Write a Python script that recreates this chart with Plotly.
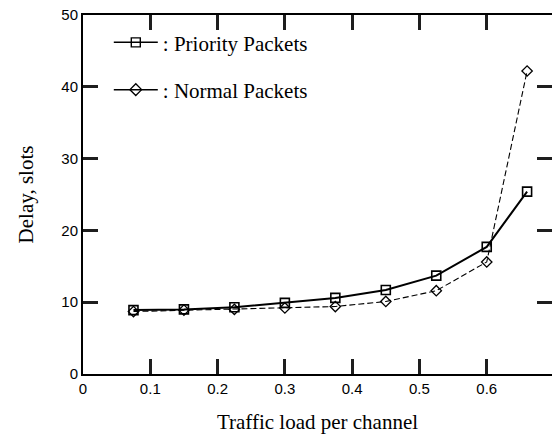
import plotly.graph_objects as go

load = [0.075, 0.15, 0.225, 0.3, 0.375, 0.45, 0.525, 0.6, 0.66]
priority_delay = [8.9, 9.0, 9.3, 9.9, 10.6, 11.7, 13.7, 17.7, 25.4]
normal_delay = [8.7, 8.9, 9.0, 9.2, 9.4, 10.1, 11.6, 15.6, 42.2]

x_ticks = [0, 0.1, 0.2, 0.3, 0.4, 0.5, 0.6]
x_tick_labels = ["0", "0.1", "0.2", "0.3", "0.4", "0.5", "0.6"]
y_ticks = [0, 10, 20, 30, 40, 50]
y_tick_labels = ["0", "10", "20", "30", "40", "50"]

serif = "Liberation Serif, Times New Roman, serif"
sans = "Liberation Sans, Arial, sans-serif"

fig = go.Figure()

fig.add_trace(go.Scatter(
    x=load, y=priority_delay, mode="lines+markers", showlegend=False,
    line=dict(color="black", width=2),
    marker=dict(symbol="square-open", size=9, color="black", line=dict(width=1.6)),
))
fig.add_trace(go.Scatter(
    x=load, y=normal_delay, mode="lines+markers", showlegend=False,
    line=dict(color="black", width=1.1, dash="6px,3px"),
    marker=dict(symbol="diamond-open", size=8, color="black", line=dict(width=1.3)),
))
fig.add_trace(go.Scatter(
    x=[None], y=[None], mode="lines+markers", name=": Priority Packets",
    legendgroup="a",
    line=dict(color="black", width=1.5),
    marker=dict(symbol="square-open", size=9, color="black", line=dict(width=1.4)),
))
fig.add_trace(go.Scatter(
    x=[None], y=[None], mode="lines+markers", name=": Normal Packets",
    legendgroup="b",
    line=dict(color="black", width=1.5),
    marker=dict(symbol="diamond-open", size=9, color="black", line=dict(width=1.4)),
))

fig.update_layout(
    width=552, height=439,
    margin=dict(l=83, r=0, t=15, b=65, autoexpand=False),
    paper_bgcolor="white", plot_bgcolor="white",
    showlegend=True,
    legend=dict(
        x=0.055, y=0.98, xanchor="left", yanchor="top",
        bgcolor="rgba(0,0,0,0)", borderwidth=0,
        font=dict(family=serif, size=21, color="black"),
        traceorder="grouped", tracegroupgap=17, itemwidth=44,
    ),
    xaxis=dict(
        range=[0, 0.697], tickmode="array", tickvals=x_ticks, ticktext=x_tick_labels,
        ticks="inside", ticklen=15, tickwidth=3, tickcolor="rgb(30,30,30)",
        showline=True, linecolor="black", linewidth=2, mirror="ticks",
        showgrid=False, zeroline=False,
        tickfont=dict(family=sans, size=15, color="black"),
        title=dict(text="Traffic load per channel", standoff=18,
                   font=dict(family=serif, size=21, color="black")),
    ),
    yaxis=dict(
        range=[0, 50], tickmode="array", tickvals=y_ticks, ticktext=y_tick_labels,
        ticks="inside", ticklen=15, tickwidth=3, tickcolor="rgb(30,30,30)",
        showline=True, linecolor="black", linewidth=2, mirror="ticks",
        showgrid=False, zeroline=False,
        tickfont=dict(family=sans, size=15, color="black"),
        title=dict(text="Delay, slots", standoff=22,
                   font=dict(family=serif, size=21, color="black")),
    ),
)

fig.write_html(
    "out.html",
    config={"displayModeBar": False},
    post_script="document.body.style.margin='0';document.body.style.overflow='hidden';",
)
